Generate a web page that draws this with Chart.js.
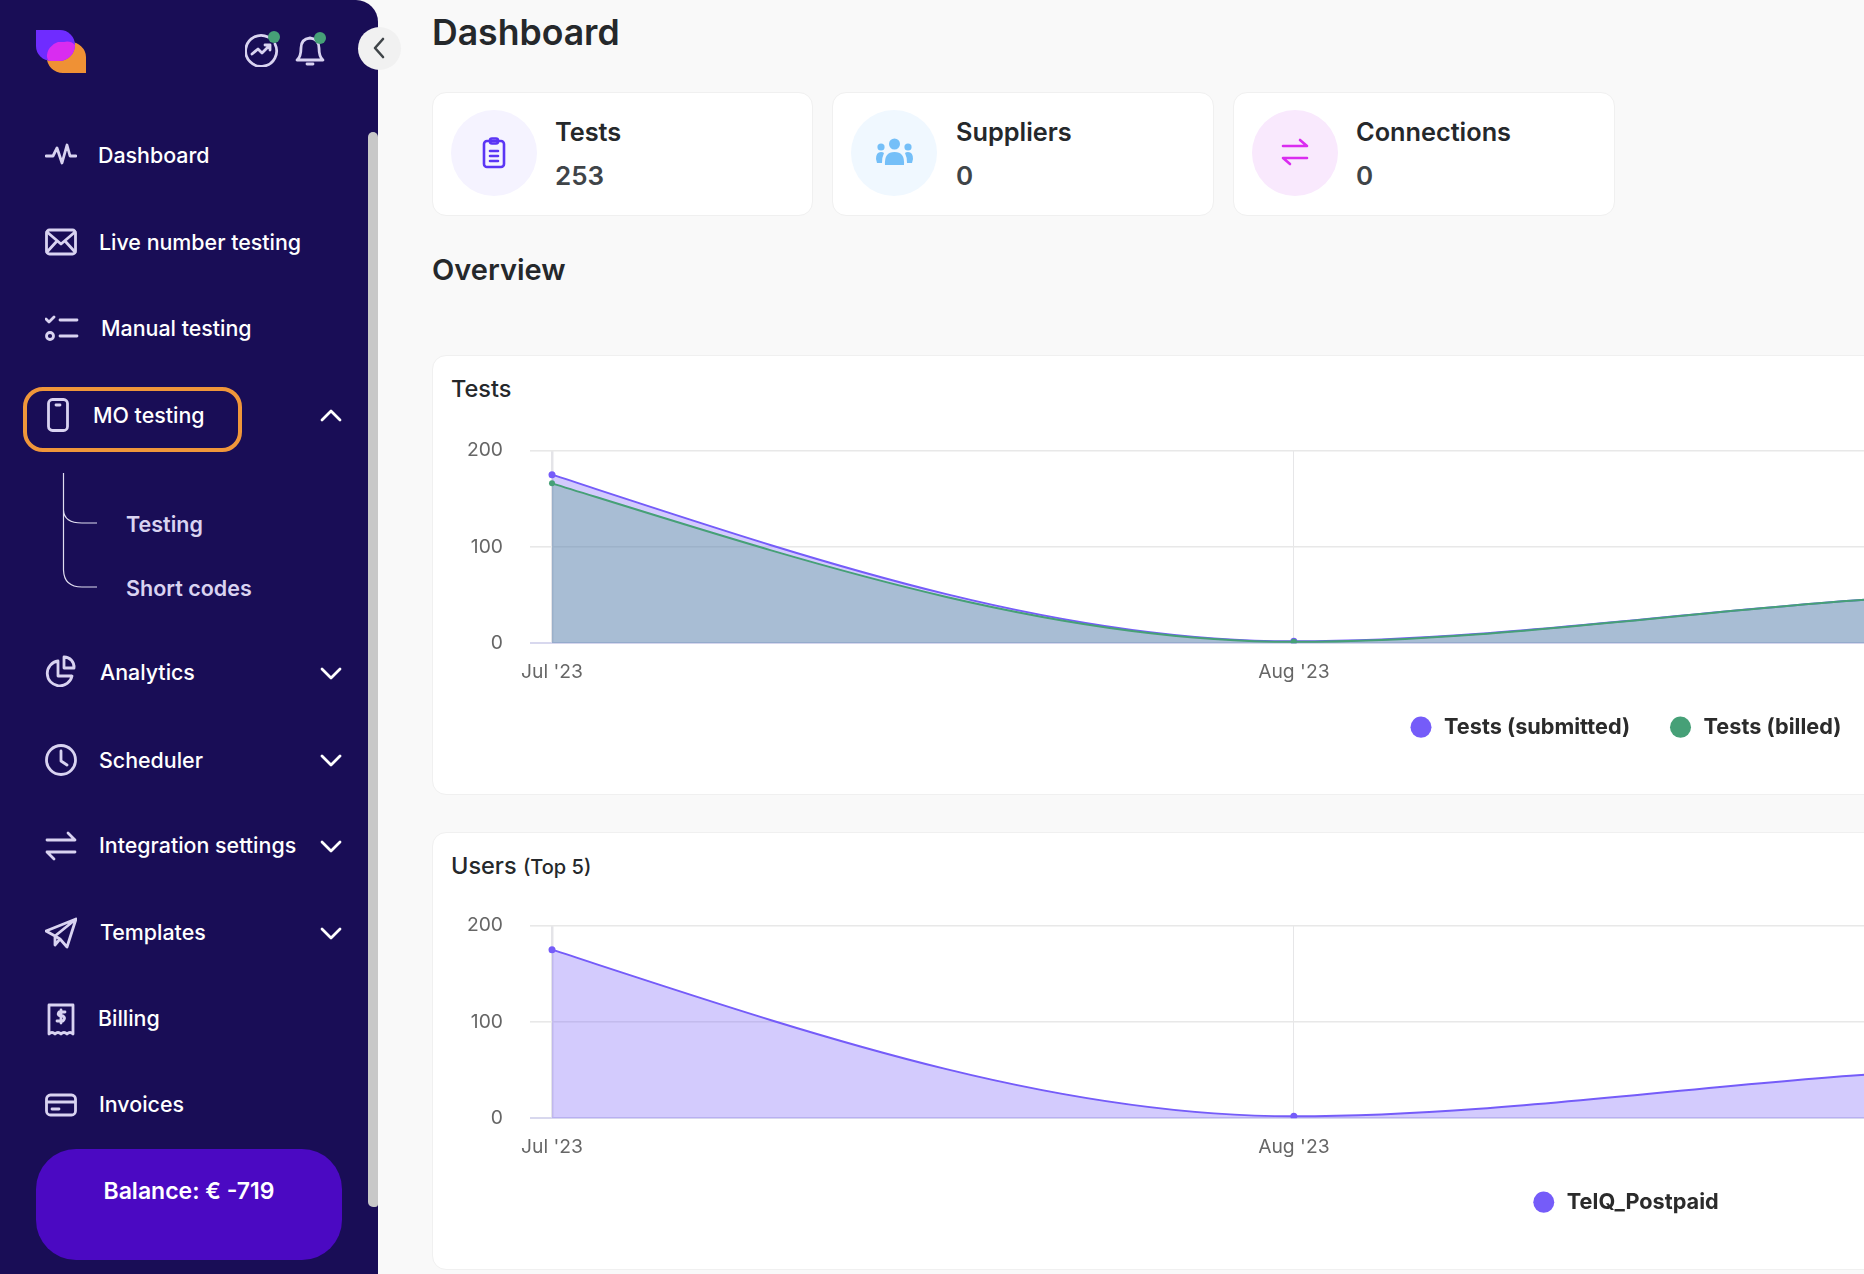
<!DOCTYPE html>
<html>
<head>
<meta charset="utf-8">
<title>Dashboard</title>
<script src="https://cdn.jsdelivr.net/npm/chart.js@4/dist/chart.umd.min.js"></script>
<style>
  html, body { margin: 0; padding: 0; width: 1864px; height: 1274px; overflow: hidden; background: #f9f9f9; font-family: Inter, sans-serif; }
  .side { position: absolute; left: 0; top: 0; width: 378px; height: 1274px; background: #190d56; border-top-right-radius: 22px; }
  .scroll { position: absolute; left: 368px; top: 132px; width: 10px; height: 1075px; background: #c8c8c8; border-radius: 5px 5px 3px 5px; }
  .t { position: absolute; transform: translateY(-50%); white-space: nowrap; }
  .m { color: #fff; font-size: 21.4px; font-weight: 500; }
  .sub { color: #d9d3f1; font-size: 21.5px; font-weight: 600; }
  .i { position: absolute; fill: none; stroke: #d9d3f1; stroke-width: 2.8; stroke-linecap: round; stroke-linejoin: round; }
  .card { position: absolute; background: #fff; border: 1px solid #f0f0f0; border-radius: 14px; box-sizing: border-box; }
  .big { color: #25282b; font-size: 25.3px; font-weight: 600; }
  .val { color: #3f4448; font-size: 26px; font-weight: 600; }
  .circle { position: absolute; width: 86px; height: 86px; border-radius: 50%; top: 110px; }
  .dot { position: absolute; width: 12px; height: 12px; border-radius: 50%; background: #46a077; }
  canvas { position: absolute; left: 424px; }
</style>
</head>
<body>

<div class="side"></div>
<div class="scroll"></div>

<!-- logo -->
<svg style="position:absolute;left:36px;top:30px" width="50" height="43" viewBox="0 0 50 43">
  <path d="M11 12 h23 a16 15 0 0 1 16 15 v16 h-23 a16 15 0 0 1 -16 -16 z" fill="#ef9135"/>
  <path d="M0 0 h24 a15 15 0 0 1 15 15 a16 16 0 0 1 -16 16 h-8 a15 15 0 0 1 -15 -15 z" fill="#6f2cff"/>
  <path d="M22 12 h6 a11 10 0 0 1 11 3 a16 16 0 0 1 -16 16 h-8 q-2 0 -3 -1 a11 10 0 0 1 -1 -3 a16 15 0 0 1 11 -15 z" fill="#d92cf0"/>
</svg>

<!-- top icons -->
<svg class="i" style="left:245px;top:33px" width="34" height="34" viewBox="0 0 34 34"><path d="M30 11 a15.5 15.5 0 1 1 -7 -7"/><path d="M7 21 l6 -5 l4 4 l8 -8 m-5 0 h5 v5"/></svg>
<div class="dot" style="left:268px;top:31px"></div>
<svg class="i" style="left:295px;top:33px" width="30" height="34" viewBox="0 0 30 34"><path d="M2 27 q4 -3 4 -12 q0 -9 9 -10 q9 1 9 10 q0 9 4 12 z"/><path d="M12 31 h6"/></svg>
<div class="dot" style="left:314px;top:32px"></div>

<div style="position:absolute;left:358px;top:27px;width:43px;height:43px;border-radius:50%;background:#f1f1f1"></div>
<svg style="position:absolute;left:372px;top:36px" width="14" height="24" viewBox="0 0 14 24" fill="none" stroke="#3f4448" stroke-width="2.6" stroke-linecap="round" stroke-linejoin="round"><path d="M11 3 L3 12 L11 21"/></svg>

<!-- menu -->
<svg class="i" style="left:45px;top:139px" width="32" height="32" viewBox="0 0 32 32"><path d="M1 17 h7 l4 -8 l5 15 l5 -18 l3 11 h6"/></svg>
<div class="t m" style="left:98px;top:155px">Dashboard</div>

<svg class="i" style="left:45px;top:226px" width="32" height="32" viewBox="0 0 32 32"><rect x="1.5" y="4" width="29" height="24" rx="3"/><path d="M2 6 L16 18 L30 6 M2 26 L12 15 M30 26 L20 15"/></svg>
<div class="t m" style="left:99px;top:242px">Live number testing</div>

<svg class="i" style="left:45px;top:313px" width="34" height="32" viewBox="0 0 34 32"><path d="M1 6 l3 3 l5 -5 M15 7 h17 M15 23 h17"/><circle cx="5" cy="23" r="3.5"/></svg>
<div class="t m" style="left:101px;top:328px">Manual testing</div>

<div style="position:absolute;left:23px;top:387px;width:219px;height:65px;box-sizing:border-box;border:4px solid #f0963a;border-radius:20px"></div>
<svg class="i" style="left:46px;top:398px" width="24" height="34" viewBox="0 0 24 34"><rect x="2.5" y="1.5" width="19" height="31" rx="4"/><path d="M10 7 h4"/></svg>
<div class="t m" style="left:93px;top:415px">MO testing</div>
<svg class="i" style="left:320px;top:408px;stroke:#fff" width="22" height="14" viewBox="0 0 22 14"><path d="M2 12 L11 3 L20 12"/></svg>

<svg style="position:absolute;left:60px;top:470px" width="42" height="122" viewBox="0 0 42 122" fill="none" stroke="#e0ddf0" stroke-width="1.2"><path d="M3.5 3 V100 Q4 117 22 117 H37 M3.5 40 Q4 53 22 53 H37"/></svg>
<div class="t sub" style="left:126px;top:524px">Testing</div>
<div class="t sub" style="left:126px;top:588px">Short codes</div>

<svg class="i" style="left:45px;top:655px" width="32" height="32" viewBox="0 0 32 32"><path d="M13 6 a12.5 12.5 0 1 0 14 15 h-14 z"/><path d="M19 2 a10 10 0 0 1 10 11 h-10 z"/></svg>
<div class="t m" style="left:100px;top:672px">Analytics</div>
<svg class="i" style="left:320px;top:667px;stroke:#fff" width="22" height="14" viewBox="0 0 22 14"><path d="M2 2 L11 11 L20 2"/></svg>

<svg class="i" style="left:45px;top:744px" width="32" height="32" viewBox="0 0 32 32"><circle cx="16" cy="16" r="14.5"/><path d="M16 7 v10 l6 4"/></svg>
<div class="t m" style="left:99px;top:760px">Scheduler</div>
<svg class="i" style="left:320px;top:754px;stroke:#fff" width="22" height="14" viewBox="0 0 22 14"><path d="M2 2 L11 11 L20 2"/></svg>

<svg class="i" style="left:45px;top:830px" width="32" height="32" viewBox="0 0 32 32"><path d="M2 10 H30 L23 3 M30 22 H2 L9 29"/></svg>
<div class="t m" style="left:99px;top:845px">Integration settings</div>
<svg class="i" style="left:320px;top:840px;stroke:#fff" width="22" height="14" viewBox="0 0 22 14"><path d="M2 2 L11 11 L20 2"/></svg>

<svg class="i" style="left:45px;top:917px" width="32" height="32" viewBox="0 0 32 32"><path d="M31 2 L1 14 L10 19 L31 2 L22 30 L15 22 L10 19 L10 28 L15 22"/></svg>
<div class="t m" style="left:100px;top:932px">Templates</div>
<svg class="i" style="left:320px;top:927px;stroke:#fff" width="22" height="14" viewBox="0 0 22 14"><path d="M2 2 L11 11 L20 2"/></svg>

<svg class="i" style="left:47px;top:1003px" width="28" height="33" viewBox="0 0 28 33"><path d="M2 2 h24 v29 q-3 -3 -6 0 q-3 -3 -6 0 q-3 -3 -6 0 q-3 -3 -6 0 z"/><path d="M18 9 h-6 q-2 3 1 4 h3 q3 2 0 5 h-6 M14 7 v13"/></svg>
<div class="t m" style="left:98px;top:1018px">Billing</div>

<svg class="i" style="left:45px;top:1089px" width="32" height="32" viewBox="0 0 32 32"><rect x="1.5" y="6" width="29" height="20" rx="4"/><path d="M2 13 H30 M7 20 h7"/></svg>
<div class="t m" style="left:99px;top:1104px">Invoices</div>

<div style="position:absolute;left:36px;top:1149px;width:306px;height:111px;background:#4b09c2;border-radius:40px"></div>
<div class="t" style="left:36px;width:306px;top:1191px;text-align:center;color:#fff;font-size:23px;font-weight:600">Balance: € -719</div>

<!-- header -->
<div class="t" style="left:432px;top:32px;font-size:35.6px;font-weight:600;color:#25282b">Dashboard</div>

<div class="card" style="left:432px;top:92px;width:381px;height:124px"></div>
<div class="card" style="left:832px;top:92px;width:382px;height:124px"></div>
<div class="card" style="left:1233px;top:92px;width:382px;height:124px"></div>

<div class="circle" style="left:451px;background:#f5f3ff"></div>
<svg style="position:absolute;left:482px;top:137px" width="24" height="32" viewBox="0 0 24 32" fill="none" stroke="#5b35f5" stroke-width="2.6" stroke-linecap="round"><rect x="2" y="4" width="20" height="26" rx="3"/><rect x="8" y="1.5" width="8" height="5" rx="2"/><path d="M8 14 h8 M8 19 h8 M8 24 h8"/></svg>
<div class="t big" style="left:555px;top:131px">Tests</div>
<div class="t val" style="left:555px;top:175px">253</div>

<div class="circle" style="left:851px;background:#f0f8ff"></div>
<svg style="position:absolute;left:876px;top:138px" width="37" height="28" viewBox="0 0 37 28" fill="#74bff8"><circle cx="18.5" cy="6" r="5.5"/><circle cx="5" cy="9" r="3.6"/><circle cx="32" cy="9" r="3.6"/><path d="M9 27 q-1 -13 9.5 -13 q10.5 0 9.5 13 z"/><path d="M0 21 q0 -7 5 -7 q2 0 3 1 q-2 4 -2 10 h-5 z M37 21 q0 -7 -5 -7 q-2 0 -3 1 q2 4 2 10 h5 z"/></svg>
<div class="t big" style="left:956px;top:131px">Suppliers</div>
<div class="t val" style="left:956px;top:175px">0</div>

<div class="circle" style="left:1252px;background:#f9e9fd"></div>
<svg style="position:absolute;left:1281px;top:138px" width="28" height="28" viewBox="0 0 28 28" fill="none" stroke="#da2cf0" stroke-width="2.6" stroke-linecap="round" stroke-linejoin="round"><path d="M2 8 H26 L19 2 M26 20 H2 L9 26"/></svg>
<div class="t big" style="left:1356px;top:131px">Connections</div>
<div class="t val" style="left:1356px;top:175px">0</div>

<div class="t" style="left:432px;top:269px;font-size:29px;font-weight:600;color:#25282b">Overview</div>

<!-- chart cards -->
<div class="card" style="left:432px;top:355px;width:1600px;height:440px"></div>
<div class="t" style="left:451px;top:388px;font-size:23.5px;font-weight:500;color:#25282b">Tests</div>
<canvas id="testsChart" width="2404" height="336" style="top:412px"></canvas>

<div class="card" style="left:432px;top:832px;width:1600px;height:438px"></div>
<div class="t" style="left:451px;top:865px;font-size:23.5px;font-weight:500;color:#25282b">Users <span style="font-size:20px">(Top 5)</span></div>
<canvas id="usersChart" width="2404" height="336" style="top:887px"></canvas>

<script>
// values, months past the right edge are estimates
const months = ["Jul '23", "Aug '23", "Sep '23", "Oct '23"];
const testsSubmitted = [175, 2, 52, 24];
const testsBilled = [166, 1.5, 52, 24];
const usersTelq = [175, 2, 52, 24];
const yTicks = [0, 100, 200];

const PURPLE = '#755cf9';
const GREEN = '#46a077';

Chart.defaults.font.family = 'Inter';

// the original curve leaves its first point steeper than chart.js monotone does
const steeperStart = {
    id: 'steeperStart',
    beforeDatasetsDraw: function (chart) {
        chart.getSortedVisibleDatasetMetas().forEach(function (meta) {
            meta.dataset.updateControlPoints(chart.chartArea, 'x');
            const first = meta.data[0];
            first.cp2y = first.y + (first.cp2y - first.y) * 1.45;
        });
    }
};

function serie(label, datos, color, fill, radius, order) {
    return {
        label: label,
        data: datos,
        borderColor: color,
        backgroundColor: fill,
        pointBackgroundColor: color,
        pointBorderColor: color,
        pointBorderWidth: 0,
        pointRadius: radius,
        pointStyle: 'circle',
        borderWidth: 2,
        fill: 'origin',
        cubicInterpolationMode: 'monotone',
        order: order
    };
}

function dibujarGrafico(targetCanvas, datasets) {
    return new Chart(targetCanvas, {
        type: 'line',
        data: { labels: months, datasets: datasets },
        plugins: [steeperStart],
        options: {
            responsive: false,
            animation: false,
            layout: {
                autoPadding: false,
                padding: 0
            },
            scales: {
                x: {
                    afterFit: function (scale) { scale.height = 40; },
                    border: { display: false },
                    grid: {
                        drawTicks: false,
                        color: function (ctx) { return ctx.index === 0 ? '#e4e4e8' : '#e6e6e8'; },
                        lineWidth: function (ctx) { return ctx.index === 0 ? 2.5 : 1; }
                    },
                    ticks: {
                        color: '#666',
                        font: { size: 19.3 },
                        padding: 17,
                        maxRotation: 0,
                        autoSkip: false
                    }
                },
                y: {
                    min: 0,
                    max: 200,
                    afterFit: function (scale) { scale.width = 128; },
                    afterBuildTicks: function (scale) {
                        scale.ticks = yTicks.map(function (v) { return { value: v }; });
                    },
                    border: { display: false },
                    grid: {
                        tickLength: 22,
                        color: function (ctx) { return ctx.tick.value === 0 ? '#d8d8ee' : '#e8e8e8'; },
                        lineWidth: function (ctx) { return ctx.tick.value === 0 ? 2 : 1.6; }
                    },
                    ticks: {
                        color: '#666',
                        font: { size: 19.3 },
                        padding: 27
                    }
                }
            },
            plugins: {
                tooltip: { enabled: false },
                legend: {
                    position: 'bottom',
                    labels: {
                        usePointStyle: true,
                        boxHeight: 15,
                        pointStyleWidth: 21,
                        padding: 33,
                        color: '#2b2b2b',
                        font: { size: 21.7, weight: '700' },
                        sort: function (a, b) { return a.datasetIndex - b.datasetIndex; },
                        generateLabels: function (chart) {
                            const items = Chart.defaults.plugins.legend.labels.generateLabels(chart);
                            return items.map(function (item) {
                                item.fillStyle = item.strokeStyle;
                                item.lineWidth = 0;
                                // thin spaces: the gaps around the text are wider in the original
                                item.text = '\u200A' + item.text;
                                if (item.datasetIndex < items.length - 1) {
                                    item.text += '\u2009\u2009';
                                }
                                return item;
                            });
                        }
                    }
                }
            }
        }
    });
}

dibujarGrafico(document.getElementById('testsChart'), [
    serie('Tests (submitted)', testsSubmitted, PURPLE, 'rgba(117, 92, 249, 0.32)', 3.5, 2),
    serie('Tests (billed)', testsBilled, GREEN, 'rgba(70, 160, 119, 0.3)', 3, 1)
]);

dibujarGrafico(document.getElementById('usersChart'), [
    serie('TelQ_Postpaid', usersTelq, PURPLE, 'rgba(117, 92, 249, 0.32)', 3.5, 1)
]);
</script>
</body>
</html>
